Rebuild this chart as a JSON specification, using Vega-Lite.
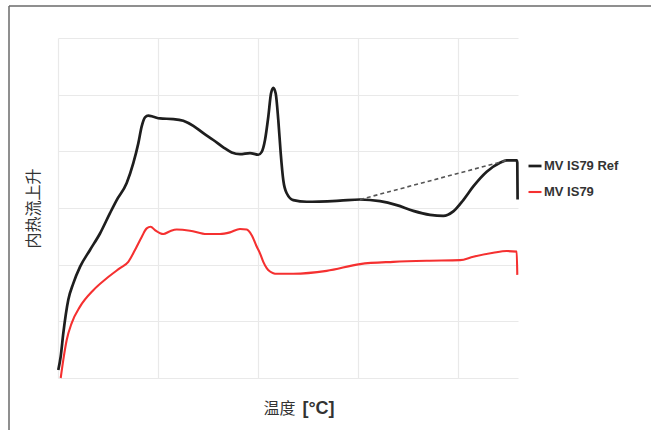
{
  "$schema": "https://vega.github.io/schema/vega-lite/v6.json",
  "width": 460,
  "height": 340,
  "autosize": "none",
  "padding": {"left": 58, "top": 38, "right": 133, "bottom": 52},
  "background": "white",
  "config": {"view": {"stroke": null}},
  "datasets": {
    "curves": [
      {"series": "MV IS79 Ref", "temp": 0.3, "heat": 0.14},
      {"series": "MV IS79 Ref", "temp": 2.7, "heat": 0.38},
      {"series": "MV IS79 Ref", "temp": 5.3, "heat": 0.79},
      {"series": "MV IS79 Ref", "temp": 10.3, "heat": 1.38},
      {"series": "MV IS79 Ref", "temp": 15.3, "heat": 1.67},
      {"series": "MV IS79 Ref", "temp": 22, "heat": 1.96},
      {"series": "MV IS79 Ref", "temp": 32, "heat": 2.26},
      {"series": "MV IS79 Ref", "temp": 42, "heat": 2.55},
      {"series": "MV IS79 Ref", "temp": 52, "heat": 2.91},
      {"series": "MV IS79 Ref", "temp": 58.7, "heat": 3.14},
      {"series": "MV IS79 Ref", "temp": 68.7, "heat": 3.44},
      {"series": "MV IS79 Ref", "temp": 75.3, "heat": 3.79},
      {"series": "MV IS79 Ref", "temp": 80.3, "heat": 4.14},
      {"series": "MV IS79 Ref", "temp": 83.7, "heat": 4.44},
      {"series": "MV IS79 Ref", "temp": 87, "heat": 4.6},
      {"series": "MV IS79 Ref", "temp": 90.3, "heat": 4.63},
      {"series": "MV IS79 Ref", "temp": 95.3, "heat": 4.61},
      {"series": "MV IS79 Ref", "temp": 102, "heat": 4.58},
      {"series": "MV IS79 Ref", "temp": 115.3, "heat": 4.57},
      {"series": "MV IS79 Ref", "temp": 125.3, "heat": 4.54},
      {"series": "MV IS79 Ref", "temp": 135.3, "heat": 4.45},
      {"series": "MV IS79 Ref", "temp": 145.3, "heat": 4.32},
      {"series": "MV IS79 Ref", "temp": 155.3, "heat": 4.2},
      {"series": "MV IS79 Ref", "temp": 165.3, "heat": 4.07},
      {"series": "MV IS79 Ref", "temp": 173.7, "heat": 3.98},
      {"series": "MV IS79 Ref", "temp": 182, "heat": 3.95},
      {"series": "MV IS79 Ref", "temp": 192, "heat": 3.97},
      {"series": "MV IS79 Ref", "temp": 200.3, "heat": 3.94},
      {"series": "MV IS79 Ref", "temp": 203.7, "heat": 3.99},
      {"series": "MV IS79 Ref", "temp": 207, "heat": 4.2},
      {"series": "MV IS79 Ref", "temp": 210.3, "heat": 4.61},
      {"series": "MV IS79 Ref", "temp": 213, "heat": 5.02},
      {"series": "MV IS79 Ref", "temp": 215.3, "heat": 5.12},
      {"series": "MV IS79 Ref", "temp": 217.7, "heat": 5.02},
      {"series": "MV IS79 Ref", "temp": 220.3, "heat": 4.55},
      {"series": "MV IS79 Ref", "temp": 222.7, "heat": 3.97},
      {"series": "MV IS79 Ref", "temp": 225.3, "heat": 3.49},
      {"series": "MV IS79 Ref", "temp": 228.7, "heat": 3.26},
      {"series": "MV IS79 Ref", "temp": 235.3, "heat": 3.14},
      {"series": "MV IS79 Ref", "temp": 248.7, "heat": 3.11},
      {"series": "MV IS79 Ref", "temp": 282, "heat": 3.13},
      {"series": "MV IS79 Ref", "temp": 302, "heat": 3.15},
      {"series": "MV IS79 Ref", "temp": 322, "heat": 3.12},
      {"series": "MV IS79 Ref", "temp": 338.7, "heat": 3.05},
      {"series": "MV IS79 Ref", "temp": 355.3, "heat": 2.95},
      {"series": "MV IS79 Ref", "temp": 372, "heat": 2.88},
      {"series": "MV IS79 Ref", "temp": 385.3, "heat": 2.86},
      {"series": "MV IS79 Ref", "temp": 395.3, "heat": 2.94},
      {"series": "MV IS79 Ref", "temp": 405.3, "heat": 3.14},
      {"series": "MV IS79 Ref", "temp": 415.3, "heat": 3.38},
      {"series": "MV IS79 Ref", "temp": 428.7, "heat": 3.64},
      {"series": "MV IS79 Ref", "temp": 442, "heat": 3.8},
      {"series": "MV IS79 Ref", "temp": 448.7, "heat": 3.84},
      {"series": "MV IS79 Ref", "temp": 458.7, "heat": 3.84},
      {"series": "MV IS79 Ref", "temp": 459.3, "heat": 3.8},
      {"series": "MV IS79 Ref", "temp": 459.6, "heat": 3.15},
      {"series": "MV IS79", "temp": 2.7, "heat": 0.0},
      {"series": "MV IS79", "temp": 5.3, "heat": 0.32},
      {"series": "MV IS79", "temp": 8.7, "heat": 0.67},
      {"series": "MV IS79", "temp": 13.7, "heat": 0.97},
      {"series": "MV IS79", "temp": 22, "heat": 1.26},
      {"series": "MV IS79", "temp": 35.3, "heat": 1.55},
      {"series": "MV IS79", "temp": 48.7, "heat": 1.76},
      {"series": "MV IS79", "temp": 62, "heat": 1.94},
      {"series": "MV IS79", "temp": 70.3, "heat": 2.05},
      {"series": "MV IS79", "temp": 77, "heat": 2.26},
      {"series": "MV IS79", "temp": 83.7, "heat": 2.49},
      {"series": "MV IS79", "temp": 88.7, "heat": 2.64},
      {"series": "MV IS79", "temp": 92.7, "heat": 2.67},
      {"series": "MV IS79", "temp": 97, "heat": 2.61},
      {"series": "MV IS79", "temp": 105.3, "heat": 2.54},
      {"series": "MV IS79", "temp": 112, "heat": 2.59},
      {"series": "MV IS79", "temp": 118.7, "heat": 2.62},
      {"series": "MV IS79", "temp": 132, "heat": 2.6},
      {"series": "MV IS79", "temp": 148.7, "heat": 2.54},
      {"series": "MV IS79", "temp": 162, "heat": 2.54},
      {"series": "MV IS79", "temp": 172, "heat": 2.57},
      {"series": "MV IS79", "temp": 182, "heat": 2.63},
      {"series": "MV IS79", "temp": 188.7, "heat": 2.62},
      {"series": "MV IS79", "temp": 193.7, "heat": 2.52},
      {"series": "MV IS79", "temp": 198.7, "heat": 2.32},
      {"series": "MV IS79", "temp": 202, "heat": 2.2},
      {"series": "MV IS79", "temp": 205.3, "heat": 2.05},
      {"series": "MV IS79", "temp": 208.7, "heat": 1.94},
      {"series": "MV IS79", "temp": 212, "heat": 1.88},
      {"series": "MV IS79", "temp": 215.3, "heat": 1.85},
      {"series": "MV IS79", "temp": 218.7, "heat": 1.84},
      {"series": "MV IS79", "temp": 235.3, "heat": 1.84},
      {"series": "MV IS79", "temp": 268.7, "heat": 1.89},
      {"series": "MV IS79", "temp": 302, "heat": 2.01},
      {"series": "MV IS79", "temp": 335.3, "heat": 2.05},
      {"series": "MV IS79", "temp": 368.7, "heat": 2.07},
      {"series": "MV IS79", "temp": 402, "heat": 2.08},
      {"series": "MV IS79", "temp": 415.3, "heat": 2.14},
      {"series": "MV IS79", "temp": 435.3, "heat": 2.21},
      {"series": "MV IS79", "temp": 448.7, "heat": 2.24},
      {"series": "MV IS79", "temp": 458.7, "heat": 2.23},
      {"series": "MV IS79", "temp": 459.3, "heat": 1.82}
    ],
    "baseline": [
      {"temp": 302, "heat": 3.15},
      {"temp": 448.7, "heat": 3.84}
    ],
    "frame": [
      {"edge": "frame"}
    ]
  },
  "resolve": {"axis": {"x": "independent", "y": "independent"}},
  "layer": [
    {
      "data": {"name": "curves"},
      "mark": {"type": "line", "interpolate": "monotone"},
      "encoding": {
        "x": {
          "field": "temp", "type": "quantitative",
          "scale": {"domain": [0, 460], "nice": false, "zero": false},
          "axis": {
            "values": [0, 100, 200, 300, 400],
            "grid": true, "gridColor": "#e9e9e9", "gridWidth": 1.2,
            "domain": false, "ticks": false, "labels": false,
            "title": "温度", "titleFont": "Noto Sans CJK SC", "titleFontSize": 16,
            "titleFontWeight": "normal", "titleColor": "#333333",
            "titleX": 221, "titleY": 22, "titleAlign": "center", "titleBaseline": "top"
          }
        },
        "y": {
          "field": "heat", "type": "quantitative",
          "scale": {"domain": [0, 6], "nice": false, "zero": false},
          "axis": {
            "orient": "left",
            "values": [0, 1, 2, 3, 4, 5, 6],
            "grid": true, "gridColor": "#e9e9e9", "gridWidth": 1.2,
            "domain": false, "ticks": false, "labels": false,
            "title": "内热流上升", "titleFont": "Noto Sans CJK SC", "titleFontSize": 16,
            "titleFontWeight": "normal", "titleColor": "#333333", "titlePadding": 17
          }
        },
        "color": {
          "field": "series", "type": "nominal",
          "scale": {"domain": ["MV IS79 Ref", "MV IS79"], "range": ["#1e1e1e", "#f53030"]},
          "legend": {
            "title": null, "orient": "none", "legendX": 469, "legendY": 120,
            "symbolType": "stroke", "symbolSize": 169, "symbolStrokeWidth": 2,
            "labelFont": "Liberation Sans", "labelFontSize": 13, "labelFontWeight": "bold",
            "labelColor": "#333333", "labelOffset": 1, "rowPadding": 11, "padding": 0
          }
        },
        "strokeWidth": {
          "field": "series", "type": "nominal",
          "scale": {"domain": ["MV IS79 Ref", "MV IS79"], "range": [2.7, 2.1]},
          "legend": null
        }
      }
    },
    {
      "data": {"name": "baseline"},
      "mark": {"type": "line", "color": "#555555", "strokeWidth": 1.6, "strokeDash": [4, 3]},
      "encoding": {
        "x": {
          "field": "temp", "type": "quantitative",
          "axis": {
            "orient": "bottom", "grid": false, "domain": false, "ticks": false, "labels": false,
            "title": "[°C]", "titleFont": "Liberation Sans", "titleFontSize": 18,
            "titleFontWeight": "bold", "titleColor": "#333333",
            "titleX": 260, "titleY": 21, "titleAlign": "center", "titleBaseline": "top"
          }
        },
        "y": {"field": "heat", "type": "quantitative", "axis": null}
      }
    },
    {
      "data": {"name": "frame"},
      "mark": {"type": "rule", "color": "#6a6a6a", "strokeWidth": 1.5, "clip": false},
      "encoding": {
        "x": {"datum": -49, "type": "quantitative", "axis": null},
        "y": {"datum": 6.565, "type": "quantitative", "axis": null},
        "y2": {"datum": -1.3}
      }
    },
    {
      "data": {"name": "frame"},
      "mark": {"type": "rule", "color": "#6a6a6a", "strokeWidth": 1.5, "clip": false},
      "encoding": {
        "x": {"datum": -49, "type": "quantitative", "axis": null},
        "x2": {"datum": 620},
        "y": {"datum": 6.565, "type": "quantitative", "axis": null}
      }
    }
  ]
}
